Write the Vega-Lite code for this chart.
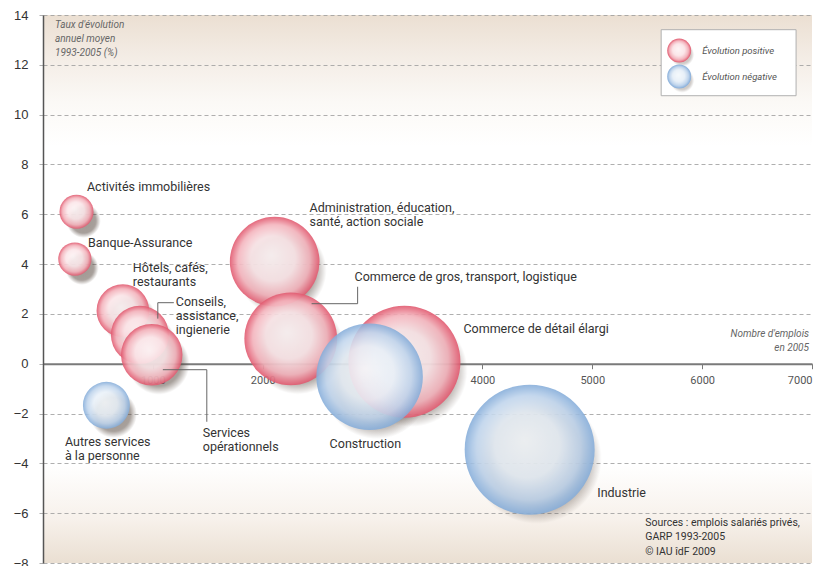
{
  "$schema": "https://vega.github.io/schema/vega-lite/v6.json",
  "width": 769,
  "height": 548,
  "autosize": "none",
  "padding": {"left": 43, "top": 15, "right": 25, "bottom": 3},
  "background": "white",
  "config": {
    "font": "Roboto",
    "view": {
      "stroke": null,
      "fill": {
        "gradient": "linear", "x1": 0, "y1": 0, "x2": 0, "y2": 1,
        "stops": [
          {"offset": 0, "color": "#ebdfd2"},
          {"offset": 0.08, "color": "#f4ede6"},
          {"offset": 0.16, "color": "#fbf9f6"},
          {"offset": 0.24, "color": "#ffffff"},
          {"offset": 0.82, "color": "#ffffff"},
          {"offset": 0.92, "color": "#f7f1eb"},
          {"offset": 1, "color": "#eadfd2"}
        ]
      }
    }
  },
  "datasets": {
    "secteurs": [
      {"secteur": "Activités immobilières", "emplois": 305, "taux": 6.1, "signe": "positive"},
      {"secteur": "Banque-Assurance", "emplois": 290, "taux": 4.2, "signe": "positive"},
      {"secteur": "Hôtels, cafés, restaurants", "emplois": 727, "taux": 2.13, "signe": "positive"},
      {"secteur": "Conseils, assistance, ingienerie", "emplois": 882, "taux": 1.16, "signe": "positive"},
      {"secteur": "Services opérationnels", "emplois": 990, "taux": 0.36, "signe": "positive"},
      {"secteur": "Administration, éducation, santé, action sociale", "emplois": 2109, "taux": 4.1, "signe": "positive"},
      {"secteur": "Commerce de gros, transport, logistique", "emplois": 2255, "taux": 1.0, "signe": "positive"},
      {"secteur": "Commerce de détail élargi", "emplois": 3290, "taux": 0.08, "signe": "positive"},
      {"secteur": "Autres services à la personne", "emplois": 577, "taux": -1.67, "signe": "negative"},
      {"secteur": "Construction", "emplois": 2973, "taux": -0.52, "signe": "negative"},
      {"secteur": "Industrie", "emplois": 4430, "taux": -3.45, "signe": "negative"}
    ],
    "etiquettes": [
      {"texte": "Activités immobilières", "lx": 400, "ly": 7.35},
      {"texte": "Banque-Assurance", "lx": 409, "ly": 5.1},
      {"texte": "Hôtels, cafés,\nrestaurants", "lx": 818, "ly": 4.1},
      {"texte": "Conseils,\nassistance,\ningienerie", "lx": 1209, "ly": 2.73},
      {"texte": "Services\nopérationnels", "lx": 1455, "ly": -2.53},
      {"texte": "Autres services\nà la personne", "lx": 200, "ly": -2.89},
      {"texte": "Construction", "lx": 2609, "ly": -2.97},
      {"texte": "Industrie", "lx": 5045, "ly": -4.94},
      {"texte": "Administration, éducation,\nsanté, action sociale", "lx": 2427, "ly": 6.51},
      {"texte": "Commerce de gros, transport, logistique", "lx": 2836, "ly": 3.73},
      {"texte": "Commerce de détail élargi", "lx": 3827, "ly": 1.65}
    ],
    "reperes": [
      {"trait": "Conseils", "ordre": 1, "lx": 1045, "ly": 1.81},
      {"trait": "Conseils", "ordre": 2, "lx": 1045, "ly": 2.45},
      {"trait": "Conseils", "ordre": 3, "lx": 1191, "ly": 2.45},
      {"trait": "Services", "ordre": 1, "lx": 1091, "ly": -0.24},
      {"trait": "Services", "ordre": 2, "lx": 1491, "ly": -0.24},
      {"trait": "Services", "ordre": 3, "lx": 1491, "ly": -2.33},
      {"trait": "Gros", "ordre": 1, "lx": 2445, "ly": 2.41},
      {"trait": "Gros", "ordre": 2, "lx": 2864, "ly": 2.41},
      {"trait": "Gros", "ordre": 3, "lx": 2864, "ly": 3.09}
    ],
    "legende": [
      {"texte": "Évolution positive", "signe": "positive", "lx": 5791, "tx": 6000, "ly": 12.57},
      {"texte": "Évolution négative", "signe": "negative", "lx": 5791, "tx": 6000, "ly": 11.53}
    ],
    "unique": [{}]
  },
  "layer": [
    {
      "data": {"name": "secteurs"},
      "mark": {
        "type": "circle", "xOffset": 7, "yOffset": 9, "opacity": 1,
        "fill": {"gradient": "radial", "stops": [
          {"offset": 0, "color": "rgba(80,65,55,0.55)"},
          {"offset": 0.72, "color": "rgba(80,65,55,0.5)"},
          {"offset": 1, "color": "rgba(80,65,55,0)"}
        ]}
      },
      "encoding": {
        "x": {"field": "emplois", "type": "quantitative", "title": null,
          "scale": {"domain": [0, 7000], "nice": false, "zero": false},
          "axis": {
            "title": null, "grid": false, "values": [1000, 2000, 3000, 4000, 5000, 6000, 7000], "format": "d",
            "offset": {"expr": "scale('y', 0) - height"},
            "domainColor": "#7a7a7a", "domainWidth": 2, "tickColor": "#7a7a7a", "tickSize": 5,
            "labelFont": "Roboto", "labelFontSize": 11, "labelColor": "#555555", "labelPadding": 6
          }
        },
        "y": {"field": "taux", "type": "quantitative", "title": null,
          "scale": {"domain": [-8, 14], "nice": false, "zero": false},
          "axis": {
            "title": null, "values": [-8, -6, -4, -2, 0, 2, 4, 6, 8, 10, 12, 14],
            "grid": true, "gridDash": [4, 3], "gridColor": "#9a9a9a", "gridWidth": 0.8,
            "domainColor": "#555555", "domainWidth": 1.5,
            "tickSize": 6, "tickColor": "#9a9a9a", "tickDash": [4, 3], "tickWidth": 0.8,
            "labelFont": "Liberation Sans", "labelFontSize": 13, "labelColor": "#333333", "labelPadding": 9
          }
        },
        "size": {"field": "emplois", "type": "quantitative", "legend": null,
          "scale": {"type": "linear", "domain": [0, 7000], "range": [0, 26705]}}
      }
    },
    {
      "data": {"name": "secteurs"},
      "transform": [{"filter": "datum.signe === 'positive'"}],
      "mark": {
        "type": "circle", "opacity": 0.9,
        "fill": {"gradient": "radial", "x1": 0.46, "y1": 0.43, "r1": 0, "x2": 0.5, "y2": 0.5, "r2": 0.5, "stops": [
          {"offset": 0, "color": "#fdf5f6"},
          {"offset": 0.5, "color": "#fbe6e9"},
          {"offset": 0.8, "color": "#f3b3bc"},
          {"offset": 1, "color": "#e1586e"}
        ]}
      },
      "encoding": {
        "x": {"field": "emplois", "type": "quantitative", "title": null},
        "y": {"field": "taux", "type": "quantitative", "title": null},
        "size": {"field": "emplois", "type": "quantitative", "legend": null}
      }
    },
    {
      "data": {"name": "secteurs"},
      "transform": [{"filter": "datum.signe === 'negative'"}],
      "mark": {
        "type": "circle", "opacity": 0.88,
        "fill": {"gradient": "radial", "x1": 0.46, "y1": 0.43, "r1": 0, "x2": 0.5, "y2": 0.5, "r2": 0.5, "stops": [
          {"offset": 0, "color": "#f5f9fc"},
          {"offset": 0.5, "color": "#e8f0f8"},
          {"offset": 0.8, "color": "#bfd4ec"},
          {"offset": 1, "color": "#84acd9"}
        ]}
      },
      "encoding": {
        "x": {"field": "emplois", "type": "quantitative", "title": null},
        "y": {"field": "taux", "type": "quantitative", "title": null},
        "size": {"field": "emplois", "type": "quantitative", "legend": null}
      }
    },
    {
      "data": {"name": "reperes"},
      "mark": {"type": "line", "color": "#666666", "strokeWidth": 1},
      "encoding": {
        "x": {"field": "lx", "type": "quantitative", "title": null},
        "y": {"field": "ly", "type": "quantitative", "title": null},
        "detail": {"field": "trait"},
        "order": {"field": "ordre", "type": "quantitative"}
      }
    },
    {
      "data": {"name": "etiquettes"},
      "mark": {"type": "text", "align": "left", "baseline": "top", "lineBreak": "\n", "lineHeight": 14,
        "font": "Roboto", "fontSize": 12.5, "color": "#333333"},
      "encoding": {
        "x": {"field": "lx", "type": "quantitative", "title": null},
        "y": {"field": "ly", "type": "quantitative", "title": null},
        "text": {"field": "texte"}
      }
    },
    {
      "data": {"name": "unique"},
      "mark": {"type": "text", "align": "left", "baseline": "top", "lineBreak": "\n", "lineHeight": 14,
        "font": "Roboto", "fontSize": 10, "fontStyle": "italic", "color": "#666666"},
      "encoding": {
        "x": {"datum": 109, "type": "quantitative"},
        "y": {"datum": 13.78, "type": "quantitative"},
        "text": {"value": "Taux d'évolution\nannuel moyen\n1993-2005 (%)"}
      }
    },
    {
      "data": {"name": "unique"},
      "mark": {"type": "text", "align": "right", "baseline": "top", "lineBreak": "\n", "lineHeight": 14,
        "font": "Roboto", "fontSize": 10, "fontStyle": "italic", "color": "#666666"},
      "encoding": {
        "x": {"datum": 6973, "type": "quantitative"},
        "y": {"datum": 1.41, "type": "quantitative"},
        "text": {"value": "Nombre d'emplois\nen 2005"}
      }
    },
    {
      "data": {"name": "unique"},
      "mark": {"type": "text", "align": "left", "baseline": "top", "lineBreak": "\n", "lineHeight": 14.5,
        "font": "Roboto", "fontSize": 10.5, "color": "#333333"},
      "encoding": {
        "x": {"datum": 5482, "type": "quantitative"},
        "y": {"datum": -6.18, "type": "quantitative"},
        "text": {"value": "Sources : emplois salariés privés,\nGARP 1993-2005\n© IAU îdF 2009"}
      }
    },
    {
      "data": {"name": "unique"},
      "mark": {"type": "rect", "fill": "white", "stroke": "#b0b0b0", "strokeWidth": 1},
      "encoding": {
        "x": {"datum": 5627, "type": "quantitative"},
        "x2": {"datum": 6855},
        "y": {"datum": 13.41, "type": "quantitative"},
        "y2": {"datum": 10.76}
      }
    },
    {
      "data": {"name": "legende"},
      "mark": {"type": "circle", "size": 576, "xOffset": 3, "yOffset": 4, "opacity": 1,
        "fill": {"gradient": "radial", "stops": [
          {"offset": 0, "color": "rgba(85,70,60,0.35)"},
          {"offset": 0.75, "color": "rgba(85,70,60,0.28)"},
          {"offset": 1, "color": "rgba(85,70,60,0)"}
        ]}},
      "encoding": {
        "x": {"field": "lx", "type": "quantitative", "title": null},
        "y": {"field": "ly", "type": "quantitative", "title": null}
      }
    },
    {
      "data": {"name": "legende"},
      "transform": [{"filter": "datum.signe === 'positive'"}],
      "mark": {"type": "circle", "size": 576, "opacity": 1,
        "fill": {"gradient": "radial", "x1": 0.46, "y1": 0.43, "r1": 0, "x2": 0.5, "y2": 0.5, "r2": 0.5, "stops": [
          {"offset": 0, "color": "#fdf5f6"},
          {"offset": 0.5, "color": "#fbe6e9"},
          {"offset": 0.8, "color": "#f3b3bc"},
          {"offset": 1, "color": "#e1586e"}
        ]}},
      "encoding": {
        "x": {"field": "lx", "type": "quantitative", "title": null},
        "y": {"field": "ly", "type": "quantitative", "title": null}
      }
    },
    {
      "data": {"name": "legende"},
      "transform": [{"filter": "datum.signe === 'negative'"}],
      "mark": {"type": "circle", "size": 576, "opacity": 1,
        "fill": {"gradient": "radial", "x1": 0.46, "y1": 0.43, "r1": 0, "x2": 0.5, "y2": 0.5, "r2": 0.5, "stops": [
          {"offset": 0, "color": "#f5f9fc"},
          {"offset": 0.5, "color": "#e8f0f8"},
          {"offset": 0.8, "color": "#bfd4ec"},
          {"offset": 1, "color": "#84acd9"}
        ]}},
      "encoding": {
        "x": {"field": "lx", "type": "quantitative", "title": null},
        "y": {"field": "ly", "type": "quantitative", "title": null}
      }
    },
    {
      "data": {"name": "legende"},
      "mark": {"type": "text", "align": "left", "baseline": "middle",
        "font": "Roboto", "fontSize": 9.5, "fontStyle": "italic", "color": "#555555"},
      "encoding": {
        "x": {"field": "tx", "type": "quantitative", "title": null},
        "y": {"field": "ly", "type": "quantitative", "title": null},
        "text": {"field": "texte"}
      }
    }
  ]
}
